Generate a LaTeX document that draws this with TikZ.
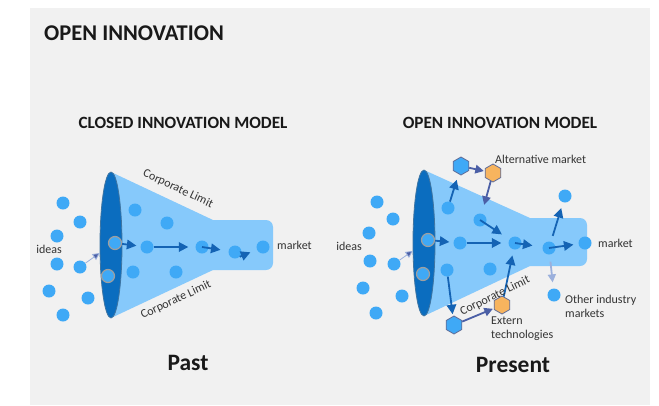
\documentclass[tikz,border=0pt]{standalone}
\usepackage{fontspec}
\setmainfont{Carlito}
\usetikzlibrary{shapes.geometric,arrows.meta}
\definecolor{panel}{HTML}{F1F1F1}
\definecolor{funnel}{HTML}{86C9FB}
\definecolor{lensblue}{HTML}{0B6DBF}
\definecolor{dotblue}{HTML}{3FA9F6}
\definecolor{flowblue}{HTML}{1463B4}
\definecolor{slate}{HTML}{4B5FA6}
\definecolor{paleslate}{HTML}{9BB0DC}
\definecolor{hexorange}{HTML}{F7B45E}
\definecolor{ink}{HTML}{333333}

\begin{document}
\begin{tikzpicture}[
            x=1pt, y=-1pt,
            dot/.style={circle, fill=dotblue, minimum size=13pt, inner sep=0pt},
            rim/.style={dot, draw=gray!75, line width=1.2pt},
            hex/.style={regular polygon, regular polygon sides=6, rotate=30, minimum size=18pt, inner sep=0pt, draw=slate!60!gray, line width=0.8pt},
            lensnode/.style={ellipse, fill=lensblue, draw=lensblue!55!gray, line width=0.8pt, minimum width=22pt, minimum height=146pt, inner sep=0pt},
            flow/.style={-{Triangle[length=9.5pt,width=9.5pt]}, flowblue, line width=1.8pt},
            link/.style={-{Triangle[length=8.5pt,width=8.5pt]}, slate, line width=1.8pt},
            feed/.style={-{Triangle[length=7pt,width=7pt,fill=slate]}, paleslate, line width=0.8pt},
            spill/.style={-{Triangle[length=8pt,width=8pt]}, paleslate, line width=1.8pt},
            txt/.style={font=\fontsize{12}{14}\selectfont, text=ink, inner sep=0pt},
            heading/.style={font=\fontsize{17.2}{19}\selectfont\bfseries, text=black!90, inner sep=0pt},
            era/.style={font=\fontsize{23.5}{26}\selectfont\bfseries, text=black!90, inner sep=0pt}
            ]
        \useasboundingbox (0,0) rectangle (659,405);
        \fill[panel] (30,8) rectangle (650,405);

        \node[anchor=west, font=\fontsize{22.5}{25}\selectfont\bfseries, text=black!90, inner sep=0pt] (title) at (44,33) {OPEN INNOVATION};

        \fill[funnel] (111,172) -- (213,220) -- (213,270) -- (111,318) -- cycle;
        \fill[funnel, rounded corners=7pt] (200,220) rectangle (273,270);
        \node[lensnode] (lensL) at (111,245) {};

        \fill[funnel] (424,170) -- (530,218) -- (530,266) -- (424,316) -- cycle;
        \fill[funnel, rounded corners=7pt] (515,218) rectangle (587,266);
        \node[lensnode] (lensR) at (424,243) {};

        \foreach \n/\x/\y in {1/63/203, 2/80/222, 3/57/236, 4/57/264, 5/80/267, 6/49/291, 7/88/298, 8/63/315}
            \node[dot] (l\n) at (\x,\y) {};
        \foreach \n/\x/\y in {1/377/202, 2/393/219, 3/369/233, 4/370/261, 5/394/264, 6/363/288, 7/402/296, 8/376/313}
            \node[dot] (r\n) at (\x,\y) {};

        \node[rim] (la) at (115,243) {};
        \node[rim] (lb) at (108,276) {};
        \node[dot] (c1) at (135,210) {};
        \node[dot] (c2) at (167,223) {};
        \node[dot] (c3) at (133,272) {};
        \node[dot] (c4) at (176,272) {};
        \node[dot] (m1) at (147,247) {};
        \node[dot] (m2) at (202,247) {};
        \node[dot] (m3) at (235,252) {};
        \node[dot] (m4) at (263,247) {};

        \node[rim] (ra) at (428,240) {};
        \node[rim] (rb) at (423,274) {};
        \node[dot] (p1) at (448,208) {};
        \node[dot] (p2) at (480,220) {};
        \node[dot] (p3) at (460,243) {};
        \node[dot] (p4) at (515,243) {};
        \node[dot] (p5) at (549,248) {};
        \node[dot] (p6) at (447,270) {};
        \node[dot] (p7) at (490,269) {};
        \node[dot] (mk) at (585,243) {};
        \node[dot] (q1) at (565,196) {};
        \node[dot] (q2) at (554,295) {};
        \node[hex, fill=dotblue] (h1) at (461,166) {};
        \node[hex, fill=hexorange] (h2) at (493,173) {};
        \node[hex, fill=dotblue] (h3) at (454,325) {};
        \node[hex, fill=hexorange] (h4) at (502,305) {};

        \draw[feed] (l5) -- (lensL);
        \draw[flow, shorten >=4pt] (la) -- (m1);
        \draw[flow, shorten >=7pt] (m1) -- (m2);
        \draw[flow, shorten >=8pt] (m2.center) -- (m3);
        \draw[flow, shorten >=7pt] (m3.-45) -- (m4);

        \draw[feed] (r5) -- (lensR);
        \draw[flow, shorten >=4pt] (ra) -- (p3);
        \draw[flow, shorten >=6pt] (p1) -- (h1);
        \draw[link, shorten >=1pt] (h1) -- (h2);
        \draw[link, shorten >=9pt] (h2) -- (p2);
        \draw[flow, shorten >=9pt] (p2.center) -- (p4);
        \draw[flow, shorten >=7pt] (p3) -- (p4);
        \draw[flow, shorten >=10pt] (p4.center) -- (p5);
        \draw[flow, shorten >=5pt] (p5.center) -- (mk);
        \draw[flow, shorten <=6pt, shorten >=6pt] (p5) -- (q1);
        \draw[spill, shorten <=7pt, shorten >=6pt] (p5) -- (q2);
        \draw[flow, shorten >=2pt] (p6) -- (h3);
        \draw[link, shorten >=1pt] (h3) -- (h4);
        \draw[flow, shorten >=6pt] (h4) -- (p4);

        \node[heading] (closedhead) at (183,123) {CLOSED INNOVATION MODEL};
        \node[heading] (openhead) at (500,123) {OPEN INNOVATION MODEL};
        \node[txt] (ideasL) at (49,249) {ideas};
        \node[txt] (ideasR) at (349,246) {ideas};
        \node[txt, anchor=west] (marketL) at (277,245) {market};
        \node[txt, anchor=west] (marketR) at (598,243) {market};
        \node[txt, rotate=-25] (limtop) at (178,189) {Corporate Limit};
        \node[txt, rotate=25] (limbot) at (176,300) {Corporate Limit};
        \node[txt, rotate=26] (limR) at (495,296) {Corporate Limit};
        \node[txt, anchor=west] (alt) at (495,159) {Alternative market};
        \node[txt, anchor=north west, align=left] (other) at (565,295) {Other industry\\markets};
        \node[txt, anchor=north west, align=left] (extern) at (491,317) {Extern\\technologies};
        \node[era] (past) at (188,363) {Past};
        \node[era] (present) at (513,365) {Present};
        \end{tikzpicture}
\end{document}
